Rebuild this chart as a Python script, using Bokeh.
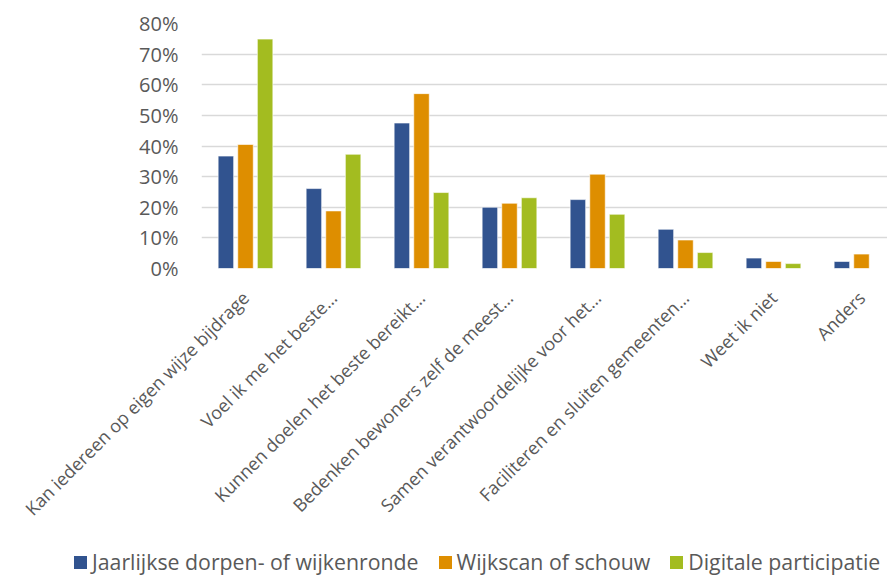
import numpy as np
from bokeh.plotting import figure
from bokeh.layouts import column
from bokeh.models import ColumnDataSource, Range1d, FixedTicker, PrintfTickFormatter, Div
from bokeh.embed import file_html
from bokeh.resources import INLINE

categories = [
    "Kan iedereen op eigen wijze bijdrage",
    "Voel ik me het beste\u2026",
    "Kunnen doelen het beste bereikt\u2026",
    "Bedenken bewoners zelf de meest\u2026",
    "Samen verantwoordelijke voor het\u2026",
    "Faciliteren en sluiten gemeenten\u2026",
    "Weet ik niet",
    "Anders",
]
series_names = ["Jaarlijkse dorpen- of wijkenronde", "Wijkscan of schouw", "Digitale participatie"]
jaarlijkse = [36.7, 26.1, 47.5, 20.0, 22.5, 12.8, 3.4, 2.3]
wijkscan = [40.5, 18.8, 57.1, 21.3, 30.8, 9.3, 2.3, 4.7]
digitale = [74.9, 37.3, 24.8, 23.1, 17.7, 5.2, 1.6, 0.0]
y_ticks = [0, 10, 20, 30, 40, 50, 60, 70, 80]

colors = ["#31538F", "#DE8E00", "#A3BC20"]
FONT = "Open Sans"
TXT = "#595959"

W = 887
H1, H2 = 542, 34
frame_left = 201
frame_top = 23
frame_bottom = 268
group_px = 88.0
frame_w = W - frame_left
xr_end = -0.5 + frame_w / group_px

p = figure(width=W, height=H1, output_backend="svg", toolbar_location=None,
           x_range=Range1d(-0.5, xr_end), y_range=Range1d(0, 80),
           min_border_left=frame_left, min_border_right=0, min_border_top=frame_top,
           min_border_bottom=H1 - frame_bottom)
p.outline_line_color = None

base = np.arange(len(categories))
offset = 19.6 / group_px
bw = 15.5 / group_px
for i, (vals, col) in enumerate(zip([jaarlijkse, wijkscan, digitale], colors)):
    src = ColumnDataSource(dict(x=base + (i - 1) * offset, top=vals))
    p.vbar(x="x", top="top", width=bw, source=src, fill_color=col,
           line_color="white", line_width=0.6)

p.xgrid.grid_line_color = None
p.ygrid.grid_line_color = "#D9D9D9"
p.ygrid.grid_line_width = 1.5
p.ygrid.ticker = FixedTicker(ticks=y_ticks)

p.yaxis.ticker = FixedTicker(ticks=y_ticks)
p.yaxis.formatter = PrintfTickFormatter(format="%d%%")
p.yaxis.axis_line_color = None
p.yaxis.major_tick_line_color = None
p.yaxis.minor_tick_line_color = None
p.yaxis.major_label_standoff = 17
p.yaxis.major_label_text_font = FONT
p.yaxis.major_label_text_font_size = "20px"
p.yaxis.major_label_text_color = TXT

p.xaxis.ticker = FixedTicker(ticks=list(base))
p.xaxis.major_label_overrides = {int(i): c for i, c in zip(base, categories)}
p.xaxis.major_label_orientation = np.pi / 4
p.xaxis.axis_line_color = None
p.xaxis.major_tick_line_color = None
p.xaxis.minor_tick_line_color = None
p.xaxis.major_label_standoff = 20
p.xaxis.major_label_text_font = FONT
p.xaxis.major_label_text_font_size = "18px"
p.xaxis.major_label_text_color = TXT

# legend strip (HTML text)
items_html = "".join(
    f'<span style="display:inline-block;width:13px;height:13px;background:{c};'
    f'vertical-align:1px;margin-right:5px"></span>'
    f'<span style="margin-right:{20 if k < len(series_names) - 1 else 0}px">{n}</span>'
    for k, (n, c) in enumerate(zip(series_names, colors))
)
legend_div = Div(
    text=f'<div style="font-family:\'Open Sans\';font-size:21.3px;color:{TXT};white-space:nowrap;'
         f'padding-left:69px;padding-top:0px;line-height:1.362">{items_html}</div>',
    width=W, height=H2,
)

layout = column(p, legend_div, spacing=0)
open("out.html", "w").write(file_html(layout, INLINE))
